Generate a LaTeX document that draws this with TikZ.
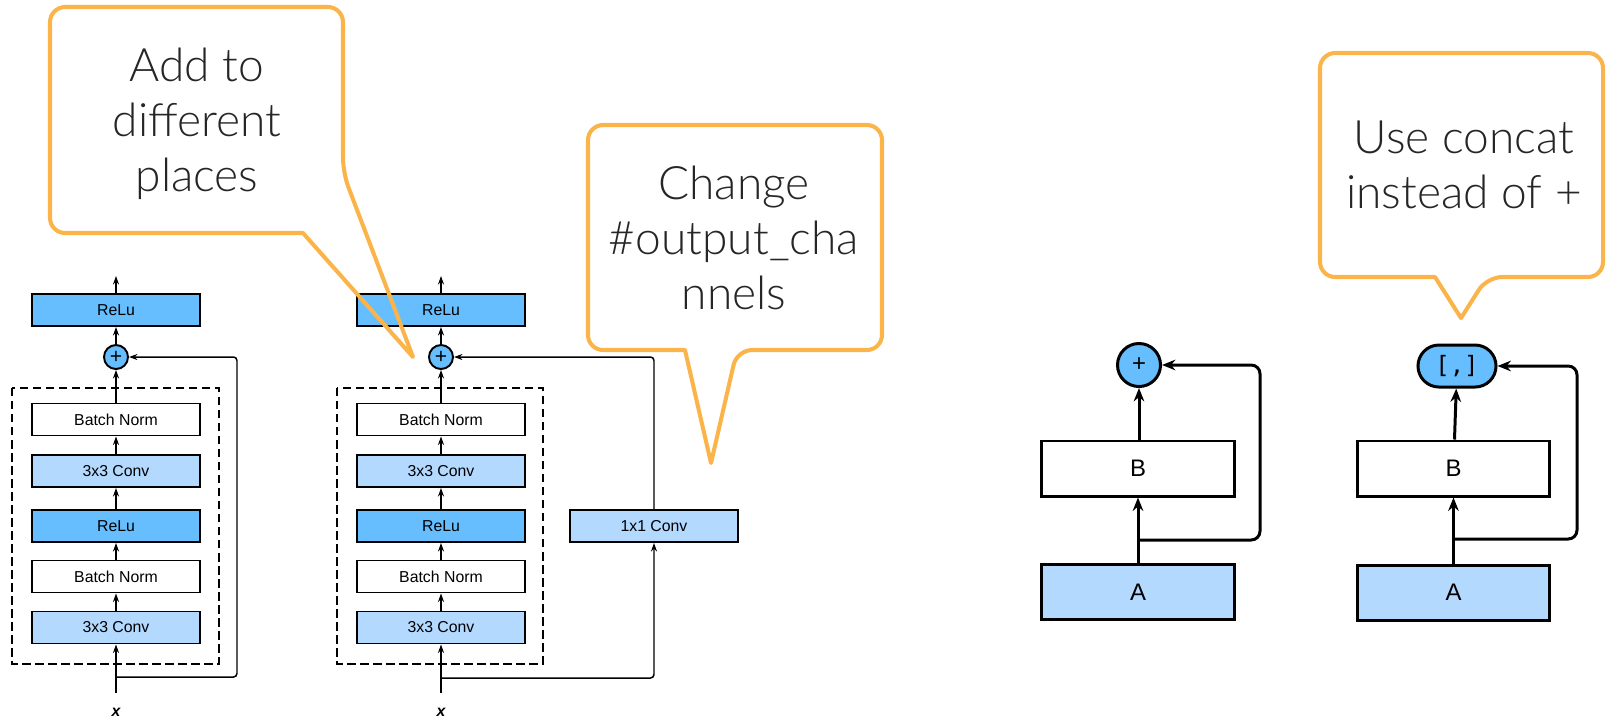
\documentclass[tikz,border=0pt]{standalone}
\usepackage{fontspec}
\setmainfont{Liberation Sans}
\newfontfamily\calloutfont{Lato Light}
\newfontfamily\monofont{DejaVu Sans Mono}
\usetikzlibrary{arrows.meta,positioning,shapes.misc}

\definecolor{relublue}{RGB}{102,190,255}
\definecolor{convblue}{RGB}{179,217,255}
\definecolor{calloutorange}{RGB}{251,180,74}
\definecolor{callouttext}{RGB}{38,38,38}

\tikzset{
  layer/.style={draw=black, line width=0.55pt, minimum width=1.67cm, minimum height=0.32cm, font=\fontsize{4.5}{5}\selectfont},
  relu/.style={layer, fill=relublue},
  conv/.style={layer, fill=convblue},
  norm/.style={layer, fill=white},
  addop/.style={circle, draw=black, line width=0.55pt, fill=relublue, minimum size=0.24cm, font=\fontsize{6}{6}\selectfont},
  groupbox/.style={line width=0.45pt, dash pattern=on 2.4pt off 1.3pt},
  flow/.style={line width=0.42pt, -{Stealth[length=2.4pt,width=1.7pt]}},
  inlabel/.style={font=\fontsize{4.5}{5}\selectfont\bfseries\itshape},
  block/.style={draw=black, line width=0.85pt, minimum width=1.92cm, minimum height=0.55cm, font=\fontsize{6.8}{7}\selectfont},
  bigflow/.style={line width=0.85pt, -{Stealth[length=3.8pt,width=3pt]}},
  callout/.style={draw=calloutorange, line width=1.15pt, line join=round},
  callouttxt/.style={align=center, text=callouttext, font=\calloutfont\fontsize{13.1}{15.6}\selectfont}
}

\begin{document}
\begin{tikzpicture}[x=0.01cm, y=-0.01cm]
\tikzstyle{every node}+=[inner sep=0pt]
\useasboundingbox (0,0) rectangle (1606,717);

% basic residual block
\node[relu] (relu1) at (116,310) {ReLu};
\node[addop] (add1) at (116,357) {+};
\node[norm] (bn12) at (116,419.5) {Batch Norm};
\node[conv] (conv12) at (116,471) {3x3 Conv};
\node[relu] (relu11) at (116,526) {ReLu};
\node[norm] (bn11) at (116,576.5) {Batch Norm};
\node[conv] (conv11) at (116,627.5) {3x3 Conv};
\node[inlabel] (x1) at (116,712) {x};
\coordinate (in1) at (116,693);
\coordinate (br1) at (116,677);
\coordinate (sk1) at (237,357);
\coordinate (out1) at (116,276);
\draw[groupbox] (12,388) rectangle (219,664);
\draw[flow] (in1) -- (conv11);
\draw[flow] (conv11) -- (bn11);
\draw[flow] (bn11) -- (relu11);
\draw[flow] (relu11) -- (conv12);
\draw[flow] (conv12) -- (bn12);
\draw[flow] (bn12) -- (add1);
\draw[flow] (add1) -- (relu1);
\draw[flow] (relu1) -- (out1);
\draw[flow, rounded corners=1pt] (br1) -| (sk1) -- (add1);

% residual block with 1x1 conv
\node[relu] (relu2) at (441,310) {ReLu};
\node[addop] (add2) at (441,357) {+};
\node[norm] (bn22) at (441,419.5) {Batch Norm};
\node[conv] (conv22) at (441,471) {3x3 Conv};
\node[relu] (relu21) at (441,526) {ReLu};
\node[norm] (bn21) at (441,576.5) {Batch Norm};
\node[conv] (conv21) at (441,627.5) {3x3 Conv};
\node[conv] (proj) at (654,526) {1x1 Conv};
\node[inlabel] (x2) at (441,712) {x};
\coordinate (in2) at (441,693);
\coordinate (br2) at (441,678);
\coordinate (out2) at (441,276);
\draw[groupbox] (337,388) rectangle (543,664);
\draw[flow] (in2) -- (conv21);
\draw[flow] (conv21) -- (bn21);
\draw[flow] (bn21) -- (relu21);
\draw[flow] (relu21) -- (conv22);
\draw[flow] (conv22) -- (bn22);
\draw[flow] (bn22) -- (add2);
\draw[flow] (add2) -- (relu2);
\draw[flow] (relu2) -- (out2);
\draw[flow, rounded corners=1pt] (br2) -| (proj);
\draw[flow, rounded corners=1pt] (proj) |- (add2);

% add
\node[circle, draw=black, line width=0.85pt, fill=relublue, minimum size=0.43cm, font=\fontsize{6.8}{7}\selectfont] (add3) at (1139,365) {+};
\node[block, fill=white] (b3) at (1138,468.5) {B};
\node[block, fill=convblue] (a3) at (1138,592) {A};
\coordinate (br3) at (1138,540);
\coordinate (sk3) at (1260,365);
\draw[bigflow] (a3) -- (b3);
\draw[bigflow] (b3.north -| add3) -- (add3);
\draw[bigflow, rounded corners=2.5pt] (br3) -| (sk3) -- (add3);

% concat
\node[rounded rectangle, draw=black, line width=0.85pt, fill=relublue, minimum width=0.78cm, minimum height=0.42cm, font=\monofont\fontsize{6.8}{7}\selectfont] (cat4) at (1457,366) {[,]};
\node[block, fill=white] (b4) at (1453.5,468.5) {B};
\node[block, fill=convblue] (a4) at (1453.5,592.5) {A};
\coordinate (br4) at (1454,539);
\coordinate (sk4) at (1577,366);
\draw[bigflow] (a4) -- (b4);
\draw[bigflow] (b4) -- (cat4);
\draw[bigflow, rounded corners=2.5pt] (br4) -| (sk4) -- (cat4);

% callouts
\draw[callout] (303,233) [rounded corners=4.3pt] -- (50,233) -- (50,7) -- (343,7) -- (343,173) [sharp corners] -- (413,357) -- cycle;
\node[callouttxt] (note1) at (197,124) {Add to\\different\\places};
\draw[callout] (685,350) [rounded corners=4.3pt] -- (588,350) -- (588,125) -- (882,125) -- (882,350) -- (737,350) [sharp corners] -- (711,463) -- cycle;
\node[callouttxt] (note2) at (734,238) {Change\\\#output\_cha\\nnels};
\draw[callout] (1435,277) [rounded corners=4.3pt] -- (1320,277) -- (1320,53) -- (1603,53) -- (1603,277) -- (1487,277) [sharp corners] -- (1461,318) -- cycle;
\node[callouttxt] (note3) at (1464,165) {Use concat\\instead of +};
\end{tikzpicture}
\end{document}
